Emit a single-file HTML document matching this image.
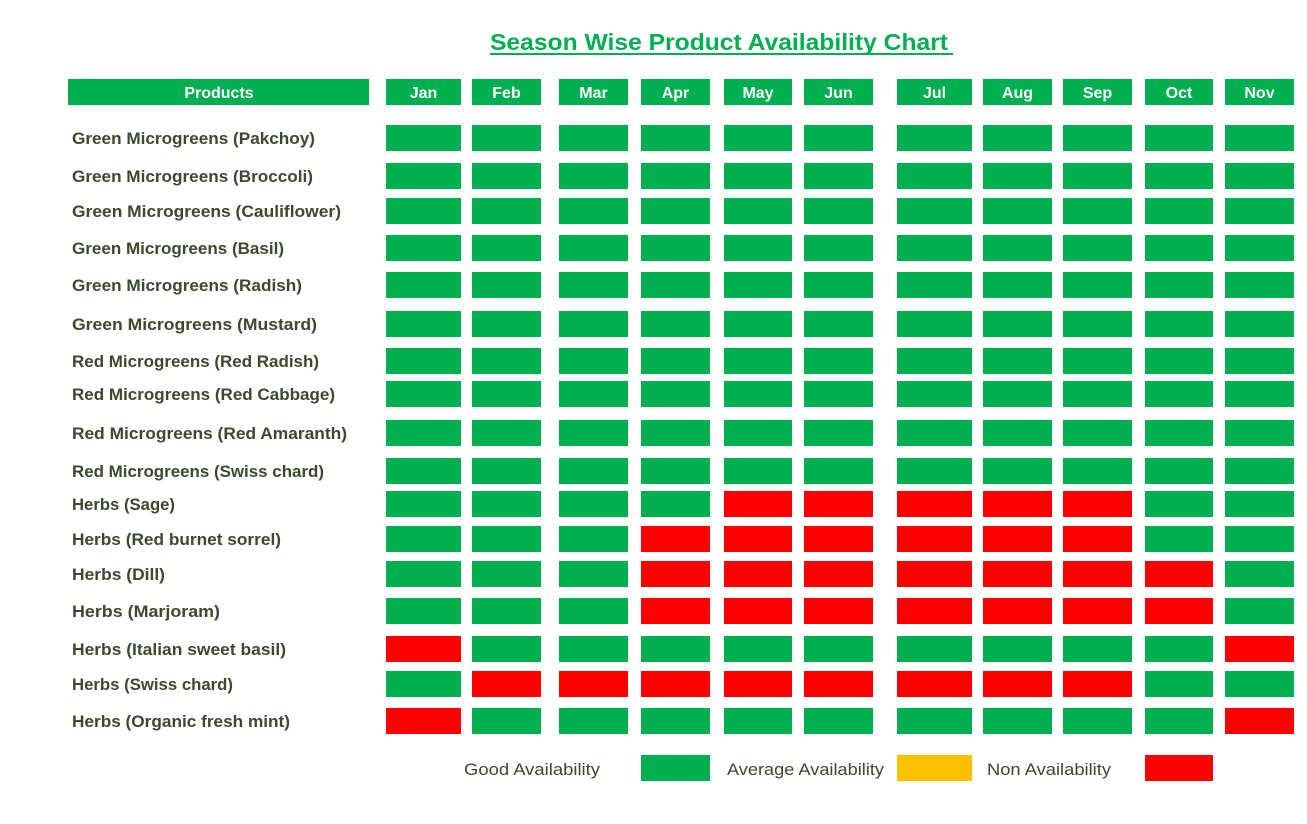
<!DOCTYPE html>
<html><head><meta charset="utf-8"><style>html,body{margin:0;padding:0;background:#fff;}svg{display:block;}</style></head>
<body>
<svg width="1307" height="824" xmlns="http://www.w3.org/2000/svg" font-family="Liberation Sans, sans-serif">
<rect width="1307" height="824" fill="#fff"/>
<text x="490" y="50" font-size="23" font-weight="bold" fill="#00b050" textLength="458" lengthAdjust="spacingAndGlyphs">Season Wise Product Availability Chart</text>
<rect x="490" y="53" width="463" height="2" fill="#00b050"/>
<g id="hdr" fill="#00b050">
<rect x="68" y="79" width="301" height="26"/>
</g>
<text x="219" y="98" font-size="16" font-weight="bold" fill="#fff" text-anchor="middle">Products</text>
<g id="cells"></g>
<g font-size="17" font-weight="bold" fill="#3b4a2a" id="labels"></g>
<text x="464" y="775" font-size="17" fill="#3b4a2a" textLength="136" lengthAdjust="spacingAndGlyphs">Good Availability</text>
<rect x="641" y="755" width="69" height="26" fill="#00b050"/>
<text x="727" y="775" font-size="17" fill="#3b4a2a" textLength="157" lengthAdjust="spacingAndGlyphs">Average Availability</text>
<rect x="897" y="755" width="75" height="26" fill="#ffc000"/>
<text x="987" y="775" font-size="17" fill="#3b4a2a" textLength="124" lengthAdjust="spacingAndGlyphs">Non Availability</text>
<rect x="1145" y="755" width="68" height="26" fill="#ff0000"/>
<script>
var ns="http://www.w3.org/2000/svg";
var cols=[[386,461],[472,541],[559,628],[641,710],[724,792],[804,873],[897,972],[983,1052],[1063,1132],[1145,1213],[1225,1294]];
var mon=["Jan","Feb","Mar","Apr","May","Jun","Jul","Aug","Sep","Oct","Nov"];
var rows=[125,163,198,235,272,311,348,381,420,458,491,526,561,598,636,671,708];
var names=[["Green Microgreens (Pakchoy)",315],["Green Microgreens (Broccoli)",313],["Green Microgreens (Cauliflower)",341],["Green Microgreens (Basil)",284],["Green Microgreens (Radish)",302],["Green Microgreens (Mustard)",317],["Red Microgreens (Red Radish)",319],["Red Microgreens (Red Cabbage)",335],["Red Microgreens (Red Amaranth)",347],["Red Microgreens (Swiss chard)",324],["Herbs (Sage)",175],["Herbs (Red burnet sorrel)",281],["Herbs (Dill)",165],["Herbs (Marjoram)",220],["Herbs (Italian sweet basil)",286],["Herbs (Swiss chard)",233],["Herbs (Organic fresh mint)",290]];
var pat=["GGGGGGGGGGG","GGGGGGGGGGG","GGGGGGGGGGG","GGGGGGGGGGG","GGGGGGGGGGG","GGGGGGGGGGG","GGGGGGGGGGG","GGGGGGGGGGG","GGGGGGGGGGG","GGGGGGGGGGG",
"GGGGRRRRRGG","GGGRRRRRRGG","GGGRRRRRRRG","GGGRRRRRRRG","RGGGGGGGGGR","GRRRRRRRRGG","RGGGGGGGGGR"];
var cg=document.getElementById("cells"),lg=document.getElementById("labels");
function el(t,a,p){var e=document.createElementNS(ns,t);for(var k in a)e.setAttribute(k,a[k]);p.appendChild(e);return e;}
cols.forEach(function(c,i){el("rect",{x:c[0],y:79,width:c[1]-c[0],height:26,fill:"#00b050"},cg);
var t=el("text",{x:(c[0]+c[1])/2,y:98,"font-size":16,"font-weight":"bold",fill:"#fff","text-anchor":"middle"},cg);t.textContent=mon[i];});
rows.forEach(function(y,r){cols.forEach(function(c,i){el("rect",{x:c[0],y:y,width:c[1]-c[0],height:26,fill:pat[r][i]=="G"?"#00b050":"#ff0000"},cg);});
var t=el("text",{x:72,y:y+19,textLength:names[r][1]-72,lengthAdjust:"spacingAndGlyphs"},lg);t.textContent=names[r][0];});
</script>
</svg>
</body></html>
